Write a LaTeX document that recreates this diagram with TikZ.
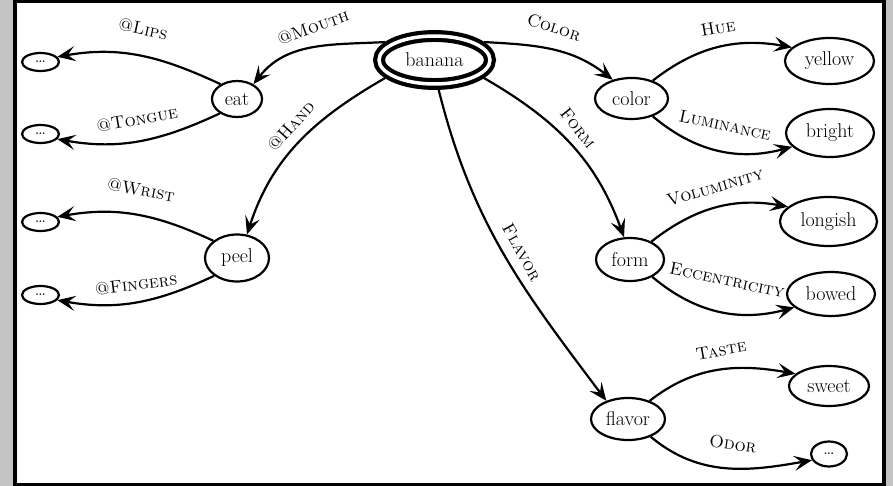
\documentclass[tikz,border=0pt]{standalone}
\usepackage{fontspec}
\usetikzlibrary{shapes.geometric,arrows.meta}
\definecolor{framegray}{RGB}{195,195,195}
\begin{document}
\begin{tikzpicture}[x=1pt,y=-1pt,
  ell/.style={draw, ellipse, line width=2.2pt, inner sep=0pt, font=\fontsize{20}{22}\selectfont},
  dotnode/.style={ell, font=\fontsize{20}{20}\selectfont},
  lbl/.style={font=\fontsize{17.5}{20}\selectfont\scshape, inner sep=0pt},
  conn/.style={line width=2.2pt, -{Stealth[length=18pt,width=15pt,inset=7.5pt]}},
]
\useasboundingbox (0,0) rectangle (893,486);
\fill[framegray] (0,0) rectangle (893,486);
\draw[line width=3.5pt, fill=white] (15,1.75) rectangle (884,484.25);

% nodes
\node[draw, ellipse, line width=4.2pt, double, double distance=3.5pt,
      minimum width=111pt, minimum height=48pt, inner sep=0pt, outer sep=6pt,
      font=\fontsize{20}{22}\selectfont] (banana) at (434.5,60) {banana};
\node[ell, minimum width=50pt, minimum height=36pt] (eat) at (237,99) {eat};
\node[ell, minimum width=64pt, minimum height=47pt] (peel) at (237,258) {peel};
\node[ell, minimum width=73pt, minimum height=41pt] (color) at (631.5,98.5) {color};
\node[ell, minimum width=68pt, minimum height=43pt] (form) at (630,259.5) {form};
\node[ell, minimum width=74pt, minimum height=42pt] (flavor) at (628,419) {flavor};
\node[ell, minimum width=89pt, minimum height=46pt] (yellow) at (829.5,61) {yellow};
\node[ell, minimum width=88pt, minimum height=48pt] (bright) at (830,133) {bright};
\node[ell, minimum width=97pt, minimum height=49pt] (longish) at (828.5,221.5) {longish};
\node[ell, minimum width=88pt, minimum height=44pt] (bowed) at (831,294) {bowed};
\node[ell, minimum width=80pt, minimum height=40pt] (sweet) at (829,386) {sweet};
\node[dotnode, minimum width=36pt, minimum height=25pt] (dodor) at (829,454) {\ldots};
\node[dotnode, minimum width=37pt, minimum height=18pt] (dlips) at (40.5,62) {\ldots};
\node[dotnode, minimum width=37pt, minimum height=18pt] (dtongue) at (40.5,134) {\ldots};
\node[dotnode, minimum width=37pt, minimum height=18pt] (dwrist) at (40.5,222) {\ldots};
\node[dotnode, minimum width=37pt, minimum height=18pt] (dfingers) at (40.5,295) {\ldots};

% connectors
\draw[conn] (banana.160) to[out=183,in=52] (eat.42);
\draw[conn] (banana.200) to[out=210,in=72] (peel.67);
\draw[conn] (banana.20) to[out=-3,in=142] (color.135);
\draw[conn] (banana.-20) to[out=-30,in=110] (form.105);
\draw[conn] (banana.-82) to[out=-76,in=127] (flavor.140);
\draw[conn] (color.40) to[out=38,in=170] (yellow.160);
\draw[conn] (color.-40) to[out=-40,in=195] (bright.200);
\draw[conn] (form.40) to[out=38,in=170] (longish.160);
\draw[conn] (form.-38) to[out=-40,in=195] (bowed.200);
\draw[conn] (flavor.40) to[out=38,in=170] (sweet.160);
\draw[conn] (flavor.-38) to[out=-40,in=190] (dodor.200);
\draw[conn] (eat.138) to[out=155,in=10] (dlips.17);
\draw[conn] (eat.220) to[out=205,in=-10] (dtongue.-17);
\draw[conn] (peel.144) to[out=155,in=10] (dwrist.17);
\draw[conn] (peel.218) to[out=205,in=-10] (dfingers.-17);

% labels
\node[lbl, rotate=-12] (lLips) at (143,29) {@Lips};
\node[lbl, rotate=20] (lMouth) at (313,27) {@Mouth};
\node[lbl, rotate=10] (lTongue) at (137,119) {@Tongue};
\node[lbl, rotate=48] (lHand) at (291,126) {@Hand};
\node[lbl, rotate=-10] (lWrist) at (141,190) {@Wrist};
\node[lbl, rotate=7] (lFingers) at (136,284) {@Fingers};
\node[lbl, rotate=-18] (lColor) at (554,27) {Color};
\node[lbl, rotate=10] (lHue) at (718,28) {Hue};
\node[lbl, rotate=-12] (lLum) at (725,125) {Luminance};
\node[lbl, rotate=-52] (lForm) at (578,128) {Form};
\node[lbl, rotate=16] (lVol) at (715,187) {Voluminity};
\node[lbl, rotate=-12] (lEcc) at (727,280) {Eccentricity};
\node[lbl, rotate=-61] (lFlavor) at (522,252) {Flavor};
\node[lbl, rotate=10] (lTaste) at (721,350) {Taste};
\node[lbl, rotate=-8] (lOdor) at (733,444) {Odor};
\end{tikzpicture}
\end{document}
